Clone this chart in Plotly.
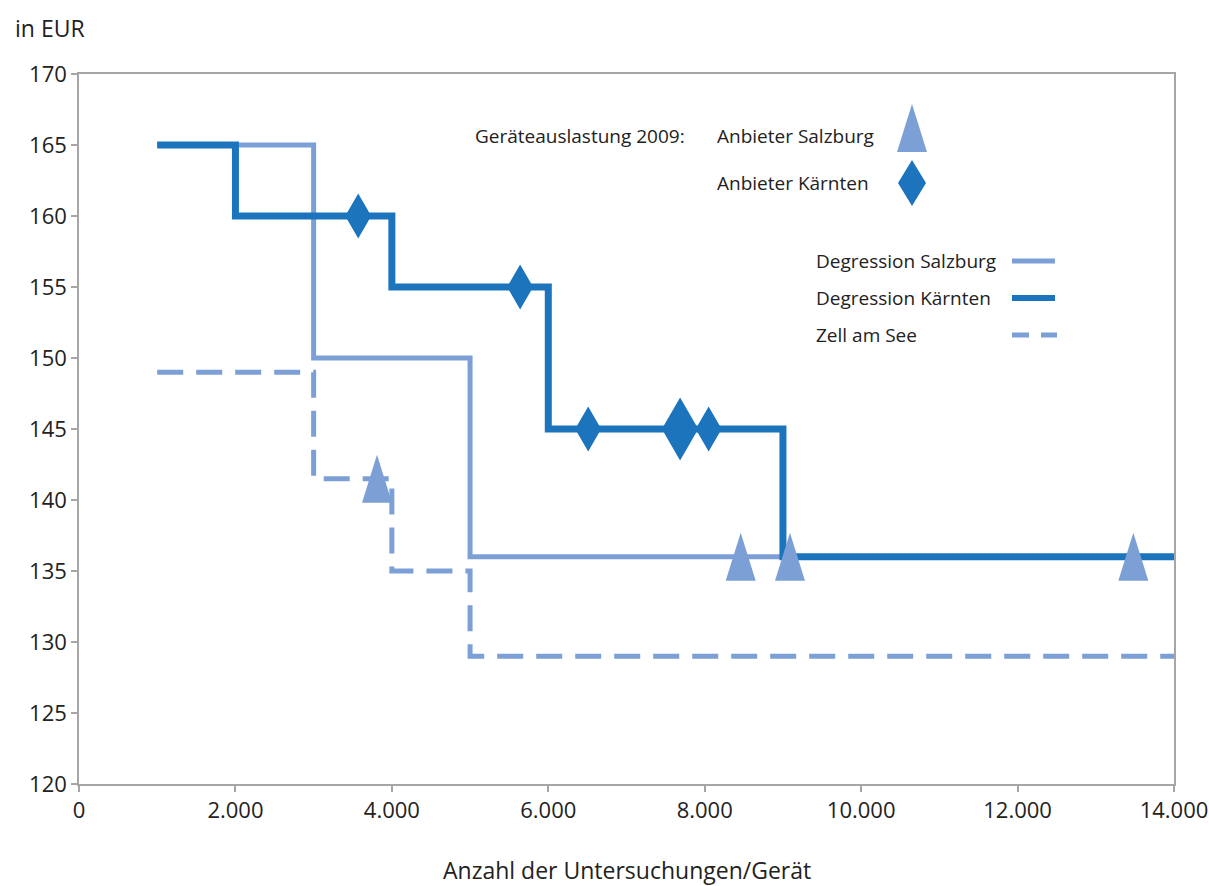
import plotly.graph_objects as go

# ---- data ----
degr_salzburg_x = [1000, 3000, 5000, 14000]
degr_salzburg_y = [165, 150, 136, 136]

degr_kaernten_x = [1000, 2000, 4000, 6000, 9000, 14000]
degr_kaernten_y = [165, 160, 155, 145, 136, 136]

zell_x = [1000, 3000, 4000, 5000, 14000]
zell_y = [149, 141.5, 135, 129, 129]

anbieter_salzburg_x = [3810, 8460, 9090, 13480]
anbieter_salzburg_y = [141.5, 136, 136, 136]

anbieter_kaernten_x = [3570, 5640, 6510, 7685, 8050]
anbieter_kaernten_y = [160, 155, 145, 145, 145]

x_ticks = [0, 2000, 4000, 6000, 8000, 10000, 12000, 14000]
y_ticks = [120, 125, 130, 135, 140, 145, 150, 155, 160, 165, 170]

# ---- style ----
LIGHT = "#7CA0D6"
DARK = "#1C74BC"
AXIS = "#A6A6A6"
TEXT = "#222222"
FONT = "Open Sans"

W, H = 1209, 886
ML, MR, MT, MB = 79, 35, 74, 102
PW, PH = W - ML - MR, H - MT - MB
XR = (0, 14000)
YR = (120, 170)
dx_per_px = (XR[1] - XR[0]) / PW
dy_per_px = (YR[1] - YR[0]) / PH


def triangles(xs, ys, wpx, hpx):
    px, py = [], []
    hw, hh = wpx / 2 * dx_per_px, hpx / 2 * dy_per_px
    for x, y in zip(xs, ys):
        px += [x - hw, x, x + hw, x - hw, None]
        py += [y - hh, y + hh, y - hh, y - hh, None]
    return px, py


def diamonds(xs, ys, wpx, hpx, scale=None):
    px, py = [], []
    scale = scale or {}
    for i, (x, y) in enumerate(zip(xs, ys)):
        s = scale.get(i, 1.0)
        hw, hh = wpx * s / 2 * dx_per_px, hpx * s / 2 * dy_per_px
        px += [x - hw, x, x + hw, x, x - hw, None]
        py += [y, y + hh, y, y - hh, y, None]
    return px, py


fig = go.Figure()

fig.add_trace(go.Scatter(x=zell_x, y=zell_y, mode="lines", line_shape="hv",
                         line=dict(color=LIGHT, width=5, dash="26px,13px"),
                         name="Zell am See", showlegend=False))
fig.add_trace(go.Scatter(x=degr_salzburg_x, y=degr_salzburg_y, mode="lines", line_shape="hv",
                         line=dict(color=LIGHT, width=5),
                         name="Degression Salzburg", showlegend=False))
fig.add_trace(go.Scatter(x=degr_kaernten_x, y=degr_kaernten_y, mode="lines", line_shape="hv",
                         line=dict(color=DARK, width=7),
                         name="Degression Kärnten", showlegend=False))

dkx, dky = diamonds(anbieter_kaernten_x, anbieter_kaernten_y, 26, 45, scale={3: 1.4})
fig.add_trace(go.Scatter(x=dkx, y=dky, mode="lines", fill="toself", fillcolor=DARK,
                         line=dict(width=0, color=DARK), name="Anbieter Kärnten",
                         showlegend=False, hoverinfo="skip"))
tsx, tsy = triangles(anbieter_salzburg_x, anbieter_salzburg_y, 30, 48)
fig.add_trace(go.Scatter(x=tsx, y=tsy, mode="lines", fill="toself", fillcolor=LIGHT,
                         line=dict(width=0, color=LIGHT), name="Anbieter Salzburg",
                         showlegend=False, hoverinfo="skip"))


def pxp(x):
    return (x - ML) / PW


def pyp(y):
    return (H - MB - y) / PH


annos = [
    ("in EUR", 13, 28, 23),
    ("Geräteauslastung 2009:", 473, 136, 19),
    ("Anbieter Salzburg", 715, 136, 19),
    ("Anbieter Kärnten", 715, 183, 19),
    ("Degression Salzburg", 814, 261, 19),
    ("Degression Kärnten", 814, 298, 19),
    ("Zell am See", 814, 335, 19),
]
for t, x, y, s in annos:
    fig.add_annotation(text=t, x=pxp(x), y=pyp(y), xref="paper", yref="paper",
                       xanchor="left", yanchor="middle", showarrow=False,
                       font=dict(size=s, color=TEXT, family=FONT))
fig.add_annotation(text="Anzahl der Untersuchungen/Gerät", x=0.5, y=pyp(870),
                   xref="paper", yref="paper", xanchor="center", yanchor="middle",
                   showarrow=False, font=dict(size=23, color=TEXT, family=FONT))

# legend keys
shapes = []
tcx, tcy = 912, 128
shapes.append(dict(type="path", xref="paper", yref="paper",
                   path=f"M {pxp(tcx-15)} {pyp(tcy+24)} L {pxp(tcx)} {pyp(tcy-24)} L {pxp(tcx+15)} {pyp(tcy+24)} Z",
                   fillcolor=LIGHT, line=dict(width=0)))
dcx, dcy = 912, 183
shapes.append(dict(type="path", xref="paper", yref="paper",
                   path=f"M {pxp(dcx-14)} {pyp(dcy)} L {pxp(dcx)} {pyp(dcy-23)} L {pxp(dcx+14)} {pyp(dcy)} L {pxp(dcx)} {pyp(dcy+23)} Z",
                   fillcolor=DARK, line=dict(width=0)))
shapes.append(dict(type="line", xref="paper", yref="paper", x0=pxp(1012), x1=pxp(1055),
                   y0=pyp(261), y1=pyp(261), line=dict(color=LIGHT, width=5)))
shapes.append(dict(type="line", xref="paper", yref="paper", x0=pxp(1012), x1=pxp(1055),
                   y0=pyp(298), y1=pyp(298), line=dict(color=DARK, width=6)))
shapes.append(dict(type="line", xref="paper", yref="paper", x0=pxp(1012), x1=pxp(1057),
                   y0=pyp(335), y1=pyp(335), line=dict(color=LIGHT, width=5, dash="17px,12px")))

fig.update_layout(
    width=W, height=H, autosize=False,
    margin=dict(l=ML, r=MR, t=MT, b=MB, autoexpand=False),
    paper_bgcolor="white", plot_bgcolor="white",
    separators=",.",
    font=dict(family=FONT, color=TEXT, size=23),
    shapes=shapes,
    showlegend=False,
)
fig.update_xaxes(range=list(XR), tickvals=x_ticks, tickformat=",d", showgrid=False,
                 zeroline=False, showline=True, mirror=True, linecolor=AXIS, linewidth=1.5,
                 ticks="outside", ticklen=6, tickcolor=AXIS, tickwidth=1.5, automargin=False,
                 tickfont=dict(size=22, color=TEXT, family=FONT))
fig.update_yaxes(range=list(YR), tickvals=y_ticks, showgrid=False,
                 zeroline=False, showline=True, mirror=True, linecolor=AXIS, linewidth=1.5,
                 ticks="outside", ticklen=6, tickcolor=AXIS, tickwidth=1.5, automargin=False,
                 tickfont=dict(size=22, color=TEXT, family=FONT))

fig.write_html("out.html",
               config=dict(responsive=False, displayModeBar=False),
               post_script="document.body.style.margin='0';document.body.style.overflow='hidden';")
